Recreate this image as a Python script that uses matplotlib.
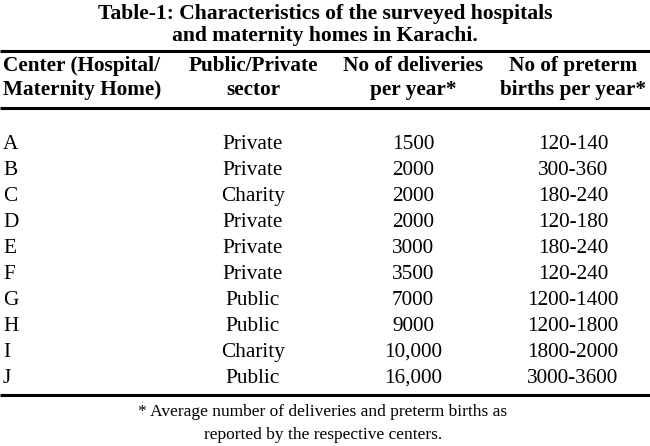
import matplotlib
matplotlib.use("Agg")
import matplotlib.pyplot as plt

plt.rcParams['font.family'] = ['Liberation Serif', 'DejaVu Serif']

title = ["Table-1: Characteristics of the surveyed hospitals",
         "and maternity homes in Karachi."]
headers = [["Center (Hospital/", "Maternity Home)"],
           ["Public/Private", "sector"],
           ["No of deliveries", "per year*"],
           ["No of preterm", "births per year*"]]
centers = ["A", "B", "C", "D", "E", "F", "G", "H", "I", "J"]
sector = ["Private", "Private", "Charity", "Private", "Private", "Private",
          "Public", "Public", "Charity", "Public"]
deliveries = ["1500", "2000", "2000", "2000", "3000", "3500", "7000", "9000",
              "10,000", "16,000"]
preterm = ["120-140", "300-360", "180-240", "120-180", "180-240", "120-240",
           "1200-1400", "1200-1800", "1800-2000", "3000-3600"]
footnote = ["* Average number of deliveries and preterm births as",
            "reported by the respective centers."]

fig = plt.figure(figsize=(6.5, 4.46), dpi=100)
ax = fig.add_axes([0, 0, 1, 1])
ax.set_xlim(0, 650)
ax.set_ylim(446, 0)
ax.axis('off')

fs = 15.3

# title
for i, t in enumerate(title):
    ax.text(325, 14 + i * 22.5, t, ha='center', va='center', fontsize=15.6,
            fontweight='bold')

# rules
for y in [50.5, 107.5, 394.5]:
    ax.plot([0, 650], [y, y], color='black', lw=2.2, solid_capstyle='butt')

# header
col_x = [3, 253, 413, 573]
for j, (h1, h2) in enumerate(headers):
    ha = 'left' if j == 0 else 'center'
    ax.text(col_x[j], 66, h1, ha=ha, va='center', fontsize=fs, fontweight='bold')
    ax.text(col_x[j], 90, h2, ha=ha, va='center', fontsize=fs, fontweight='bold')

# body
for i in range(len(centers)):
    y = 142 + i * 26
    ax.text(col_x[0], y, centers[i], ha='left', va='center_baseline', fontsize=fs)
    ax.text(col_x[1], y, sector[i], ha='center', va='center_baseline', fontsize=fs)
    ax.text(col_x[2], y, deliveries[i], ha='center', va='center_baseline', fontsize=fs)
    ax.text(col_x[3], y, preterm[i], ha='center', va='center_baseline', fontsize=fs)

# footnote
for i, t in enumerate(footnote):
    ax.text(323, 412 + i * 23, t, ha='center', va='center', fontsize=12.5)

fig.savefig('out.png', dpi=100)
